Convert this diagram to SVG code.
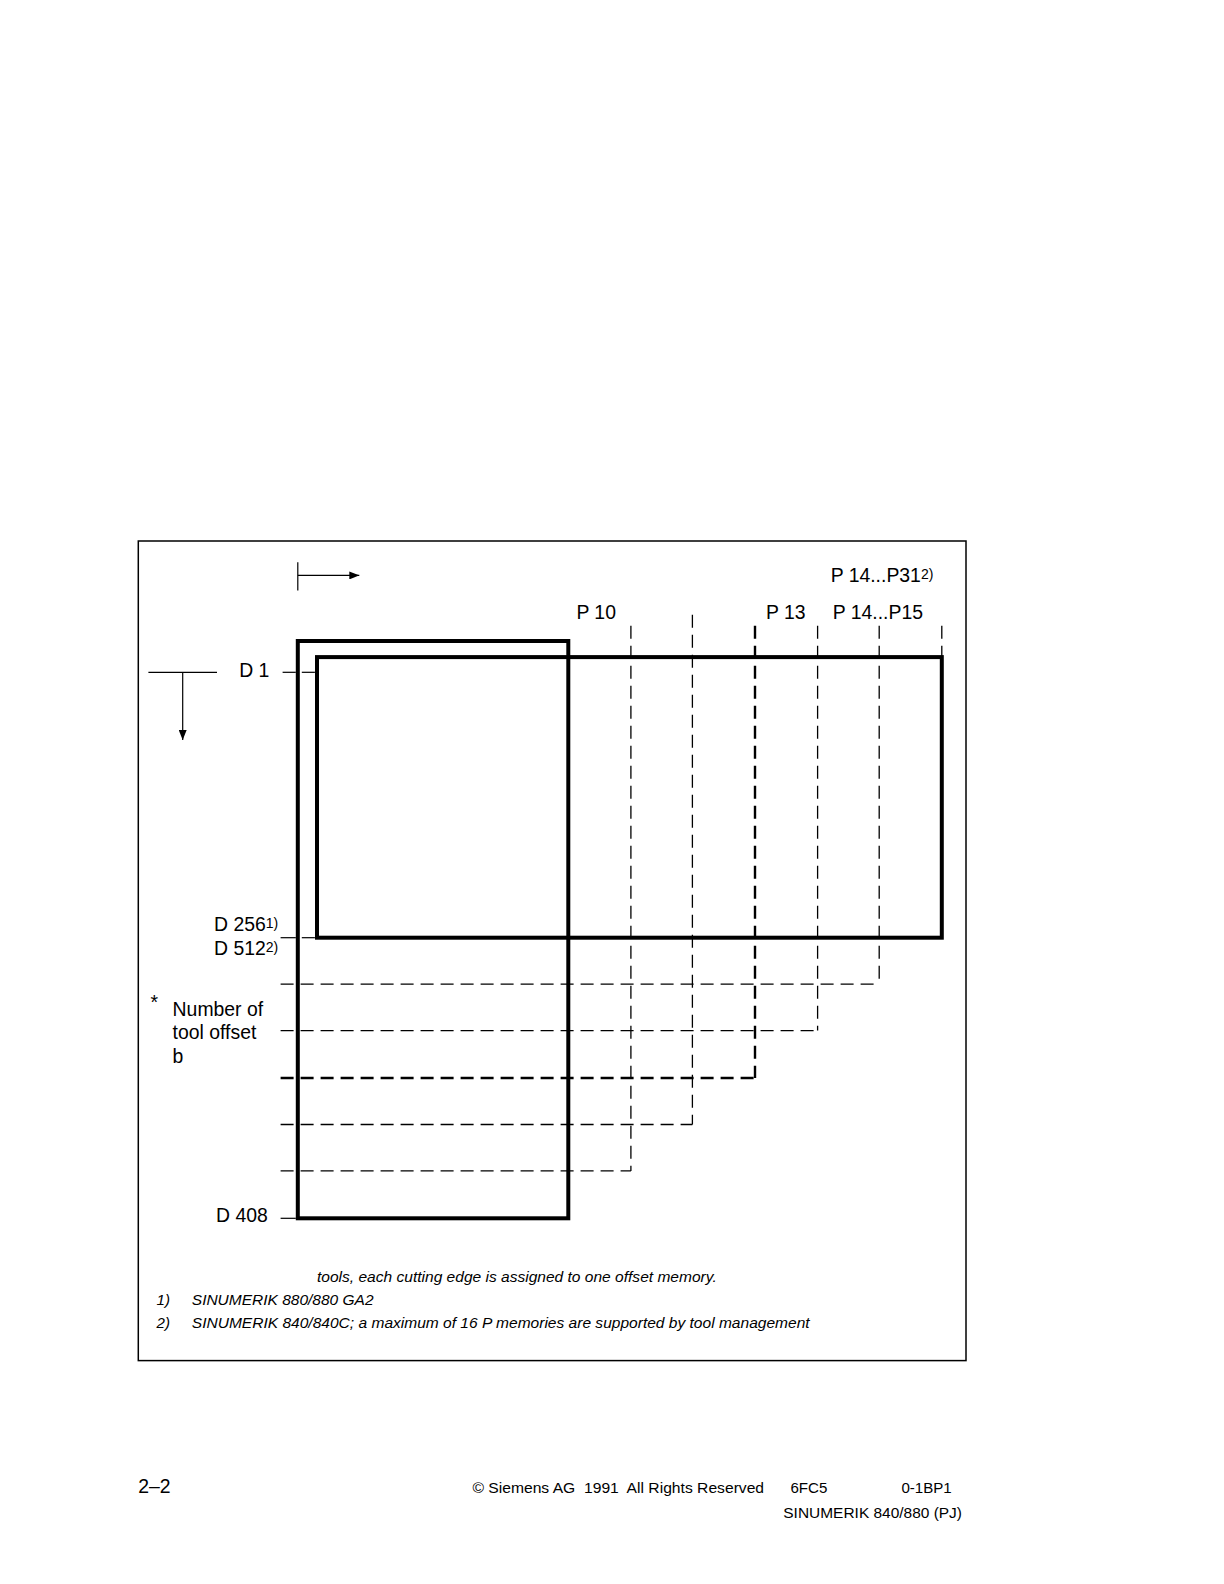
<svg xmlns="http://www.w3.org/2000/svg" width="1224" height="1584" viewBox="0 0 1224 1584">
<defs>
<style>
.t{font-family:"Liberation Sans",Arial,sans-serif;font-size:19.4px;fill:#000}
.sup{font-size:14px}
.fn{font-family:"Liberation Sans",Arial,sans-serif;font-size:15.1px;font-style:italic;fill:#000}
.ft{font-family:"Liberation Sans",Arial,sans-serif;font-size:15.1px;fill:#000}
.thin{stroke:#000;stroke-width:1.2;fill:none}
.thick{stroke:#000;stroke-width:4;fill:none}
.dash{stroke:#000;stroke-width:1.3;fill:none;stroke-dasharray:13 7}
.dashb{stroke:#000;stroke-width:2.4;fill:none;stroke-dasharray:13 7}
</style>
<marker id="ah" viewBox="0 0 10 8" refX="10" refY="4" markerWidth="10" markerHeight="8" markerUnits="userSpaceOnUse" orient="auto">
<path d="M0,0 L10,4 L0,8 Z" fill="#000"/>
</marker>
</defs>
<rect width="1224" height="1584" fill="#fff"/>
<rect id="frame" x="138.3" y="541" width="827.7" height="819.6" fill="none" stroke="#000" stroke-width="1.5"/>

<g id="connectors">
<line class="thin" x1="297.8" y1="562.2" x2="297.8" y2="590.5"/>
<line class="thin" x1="297.8" y1="575.4" x2="359.3" y2="575.4" marker-end="url(#ah)"/>
<line class="thin" x1="148.4" y1="672.3" x2="217" y2="672.3"/>
<line class="thin" x1="182.7" y1="672.3" x2="182.7" y2="739.9" marker-end="url(#ah)"/>
<line class="thin" x1="282.6" y1="672.3" x2="295.8" y2="672.3"/>
<line class="thin" x1="301.8" y1="672.3" x2="314.9" y2="672.3"/>
<line class="thin" x1="280.6" y1="937.7" x2="295.8" y2="937.7"/>
<line class="thin" x1="301.8" y1="937.7" x2="314.9" y2="937.7"/>
<line class="thin" x1="280.6" y1="1218.3" x2="295.8" y2="1218.3"/>
<line class="dash" x1="630.9" y1="625.8" x2="630.9" y2="1170.9"/>
<line class="dash" x1="692.4" y1="614.7" x2="692.4" y2="1124.5"/>
<line class="dashb" x1="755" y1="625.8" x2="755" y2="1078"/>
<line class="dash" x1="817.6" y1="625.8" x2="817.6" y2="1030.6"/>
<line class="dash" x1="879.2" y1="625.8" x2="879.2" y2="984.2"/>
<line class="dash" x1="941.8" y1="625.8" x2="941.8" y2="657.1"/>
<line class="dash" x1="280.6" y1="984.2" x2="879.2" y2="984.2"/>
<line class="dash" x1="280.6" y1="1030.6" x2="817.6" y2="1030.6"/>
<line class="dashb" x1="280.6" y1="1078" x2="755" y2="1078"/>
<line class="dash" x1="280.6" y1="1124.5" x2="692.4" y2="1124.5"/>
<line class="dash" x1="280.6" y1="1170.9" x2="630.9" y2="1170.9"/>
</g>

<g id="block-d408">
<rect class="thick" x="297.8" y="641" width="270.5" height="577.3"/>
</g>
<g id="block-d256">
<rect class="thick" x="317" y="657.1" width="624.8" height="280.6"/>
</g>

<g id="labels">
<text class="t" x="830.7" y="582.4">P 14...P31<tspan class="sup" dy="-3">2)</tspan></text>
<text class="t" x="576.4" y="618.8">P 10</text>
<text class="t" x="766.1" y="618.8">P 13</text>
<text class="t" x="832.8" y="618.8">P 14...P15</text>
<text class="t" x="239.2" y="677.3">D 1</text>
<text class="t" x="214" y="930.7">D 256<tspan class="sup" dy="-3">1)</tspan></text>
<text class="t" x="214" y="954.9">D 512<tspan class="sup" dy="-3">2)</tspan></text>
<text class="t" x="150.4" y="1009.4">*</text>
<text class="t" x="172.6" y="1015.5">Number of</text>
<text class="t" x="172.6" y="1038.7">tool offset</text>
<text class="t" x="172.6" y="1062.9">b</text>
<text class="t" x="216" y="1222.4">D 408</text>
</g>

<g id="footnotes">
<text class="fn" x="317" y="1281.9" textLength="399.7" lengthAdjust="spacingAndGlyphs">tools, each cutting edge is assigned to one offset memory.</text>
<text class="fn" x="156.5" y="1305.2">1)</text>
<text class="fn" x="191.8" y="1305.2" textLength="181.7" lengthAdjust="spacingAndGlyphs">SINUMERIK 880/880 GA2</text>
<text class="fn" x="156.5" y="1328.4">2)</text>
<text class="fn" x="191.8" y="1328.4" textLength="617.8" lengthAdjust="spacingAndGlyphs">SINUMERIK 840/840C; a maximum of 16 P memories are supported by tool management</text>
</g>

<g id="footer">
<text class="t" x="138.3" y="1492.9">2–2</text>
<text class="ft" x="472.4" y="1492.9" textLength="291.7" lengthAdjust="spacingAndGlyphs" xml:space="preserve">© Siemens AG  1991  All Rights Reserved</text>
<text class="ft" x="790.4" y="1492.9">6FC5</text>
<text class="ft" x="901.4" y="1492.9">0-1BP1</text>
<text class="ft" x="783.3" y="1518.1" textLength="178.7" lengthAdjust="spacingAndGlyphs">SINUMERIK 840/880 (PJ)</text>
</g>
</svg>
